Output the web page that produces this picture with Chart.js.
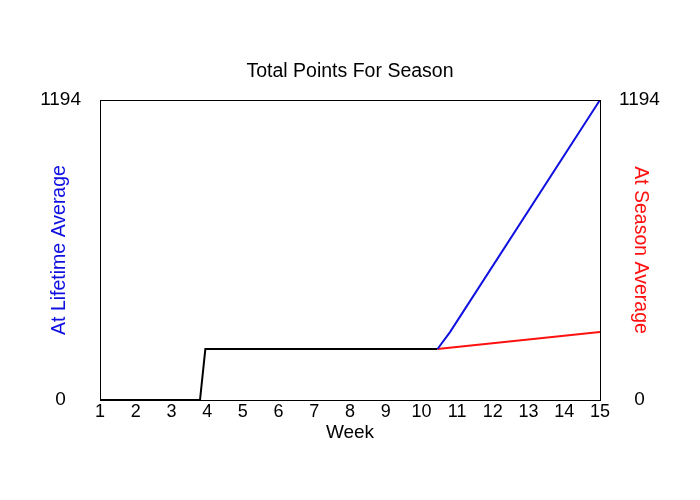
<!DOCTYPE html>
<html>
<head>
<meta charset="utf-8">
<script src="https://cdn.jsdelivr.net/npm/chart.js@4"></script>
<style>
  html, body { margin: 0; padding: 0; background: #fff; }
  #wrap { width: 700px; height: 500px; }
</style>
</head>
<body>
<div id="wrap"><canvas id="pointsChart" width="700" height="500"></canvas></div>
<script>
// Data
const yMax = 1194;
const weekTicks = [1, 2, 3, 4, 5, 6, 7, 8, 9, 10, 11, 12, 13, 14, 15];

const actualWeeks = [1, 3.8, 3.95, 10.45];
const actualPoints = [0, 0, 203, 203];

const lifetimeWeeks = [10.45, 10.8, 15];
const lifetimePoints = [203, 270, 1194];

const seasonWeeks = [10.45, 15];
const seasonPoints = [203, 271];

const toXY = (xs, ys) => xs.map((x, i) => ({ x: x, y: ys[i] }));

Chart.defaults.font.family = '"Liberation Sans", Arial, sans-serif';
Chart.defaults.color = '#000';

// plot frame
const framePlugin = {
    id: 'frame',
    afterDatasetsDraw(chart) {
        const a = chart.chartArea;
        const c = chart.ctx;
        c.save();
        c.strokeStyle = '#000';
        c.lineWidth = 1;
        c.strokeRect(a.left + 0.5, a.top + 0.5, a.right - a.left, a.bottom - a.top);
        c.restore();
    }
};

const endTicks = (scale) => {
    scale.ticks = [{ value: 0 }, { value: yMax }];
};

const ctx = document.getElementById('pointsChart').getContext('2d');
const pointsChart = new Chart(ctx, {
    type: 'line',
    data: {
        datasets: [
            {
                label: 'At Lifetime Average',
                data: toXY(lifetimeWeeks, lifetimePoints),
                borderColor: '#1010e0',
                borderWidth: 2,
                pointRadius: 0,
                tension: 0,
                yAxisID: 'y'
            },
            {
                label: 'At Season Average',
                data: toXY(seasonWeeks, seasonPoints),
                borderColor: '#ff1010',
                borderWidth: 2,
                pointRadius: 0,
                tension: 0,
                yAxisID: 'y1'
            },
            {
                label: 'Actual',
                data: toXY(actualWeeks, actualPoints),
                borderColor: '#000',
                borderWidth: 2,
                pointRadius: 0,
                tension: 0,
                yAxisID: 'y'
            }
        ]
    },
    options: {
        responsive: false,
        animation: false,
        layout: { padding: 0 },
        plugins: {
            legend: { display: false },
            tooltip: { enabled: false },
            title: {
                display: true,
                text: 'Total Points For Season',
                font: { size: 19.5, weight: 'normal' },
                padding: { top: 60.3, bottom: 16.3 }
            }
        },
        scales: {
            x: {
                type: 'linear',
                min: 1, max: 15,
                grid: { display: false, drawTicks: false },
                border: { display: false },
                afterBuildTicks: (s) => { s.ticks = weekTicks.map(v => ({ value: v })); },
                ticks: { font: { size: 18 }, padding: 1, maxRotation: 0, autoSkip: false },
                title: { display: true, text: 'Week', font: { size: 19 }, padding: { top: 0, bottom: 56 } },
                afterFit: (s) => { s.height = 100; }
            },
            y: {
                type: 'linear', position: 'left',
                min: 0, max: yMax,
                grid: { display: false, drawTicks: false },
                border: { display: false },
                afterBuildTicks: endTicks,
                ticks: { font: { size: 19 }, padding: 19, crossAlign: 'center', callback: (v) => String(v) },
                title: { display: true, text: 'At Lifetime Average', color: '#1010e0', font: { size: 19.5 }, padding: { top: 48, bottom: 0 } },
                afterFit: (s) => { s.width = 100; }
            },
            y1: {
                type: 'linear', position: 'right',
                min: 0, max: yMax,
                grid: { display: false, drawTicks: false },
                border: { display: false },
                afterBuildTicks: endTicks,
                ticks: { font: { size: 19 }, padding: 19, crossAlign: 'center', callback: (v) => String(v) },
                title: { display: true, text: 'At Season Average', color: '#ff1010', font: { size: 19.5 }, padding: { top: 48, bottom: 0 } },
                afterFit: (s) => { s.width = 100; }
            }
        }
    },
    plugins: [framePlugin]
});
</script>
</body>
</html>
